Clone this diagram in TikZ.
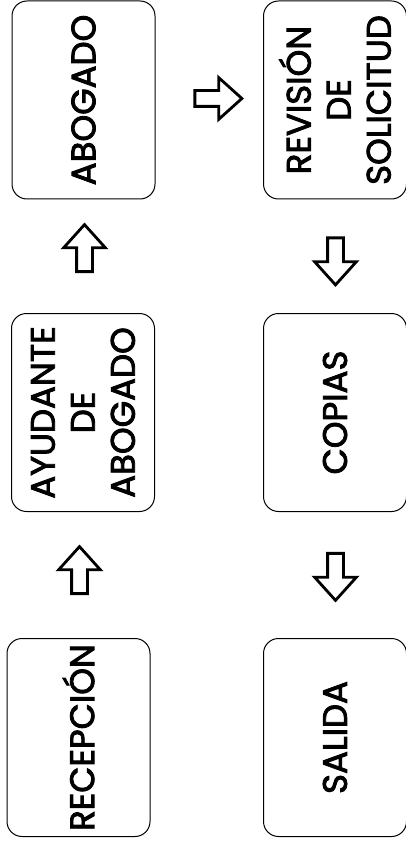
\documentclass[tikz,border=0pt]{standalone}
\usepackage{fontspec}
\setmainfont{Poppins}
\newfontfamily\etapafont{Poppins}[FakeBold=2.5]
\usepackage{tikz}
\usetikzlibrary{shapes}
\usetikzlibrary{shapes.arrows}
\usetikzlibrary{positioning}
\tikzstyle{etapa}=[
        draw,
        rectangle,
        rounded corners=15pt,
        line width=1pt,
        rotate=90,
        minimum width=198pt,
        minimum height=143pt,
        align=center,
        font=\etapafont\fontsize{34}{40}\selectfont
]
\tikzstyle{flecha}=[
        draw,
        single arrow,
        line width=2.8pt,
        inner xsep=0pt,
        inner ysep=6.5pt,
        single arrow head extend=13pt,
        single arrow tip angle=84,
        minimum height=47pt
]

\begin{document}
\begin{tikzpicture}[x=1pt,y=1pt]
\useasboundingbox (0,0) rectangle (406,-842);
\node[etapa] (abog) at (83.5,-100) {ABOGADO};
\node[etapa] (revi) at (335,-100) {REVISIÓN\\DE\\SOLICITUD};
\node[etapa] (ayud) at (83,-412.5) {AYUDANTE\\DE\\ABOGADO};
\node[etapa] (copi) at (335,-412.5) {COPIAS};
\node[etapa] (rece) at (78.5,-737.5) {RECEPCIÓN};
\node[etapa] (sali) at (335,-737.5) {SALIDA};
%Drawing Edges
\node[flecha, rotate=90] (f1) at (79.5,-574.5) {};
\node[flecha, rotate=90] (f2) at (84.5,-252.5) {};
\node[flecha] (f3) at (214,-98.5) {};
\node[flecha, rotate=-90] (f4) at (335.5,-257) {};
\node[flecha, rotate=-90] (f5) at (335.5,-572.5) {};
\end{tikzpicture}
\end{document}
